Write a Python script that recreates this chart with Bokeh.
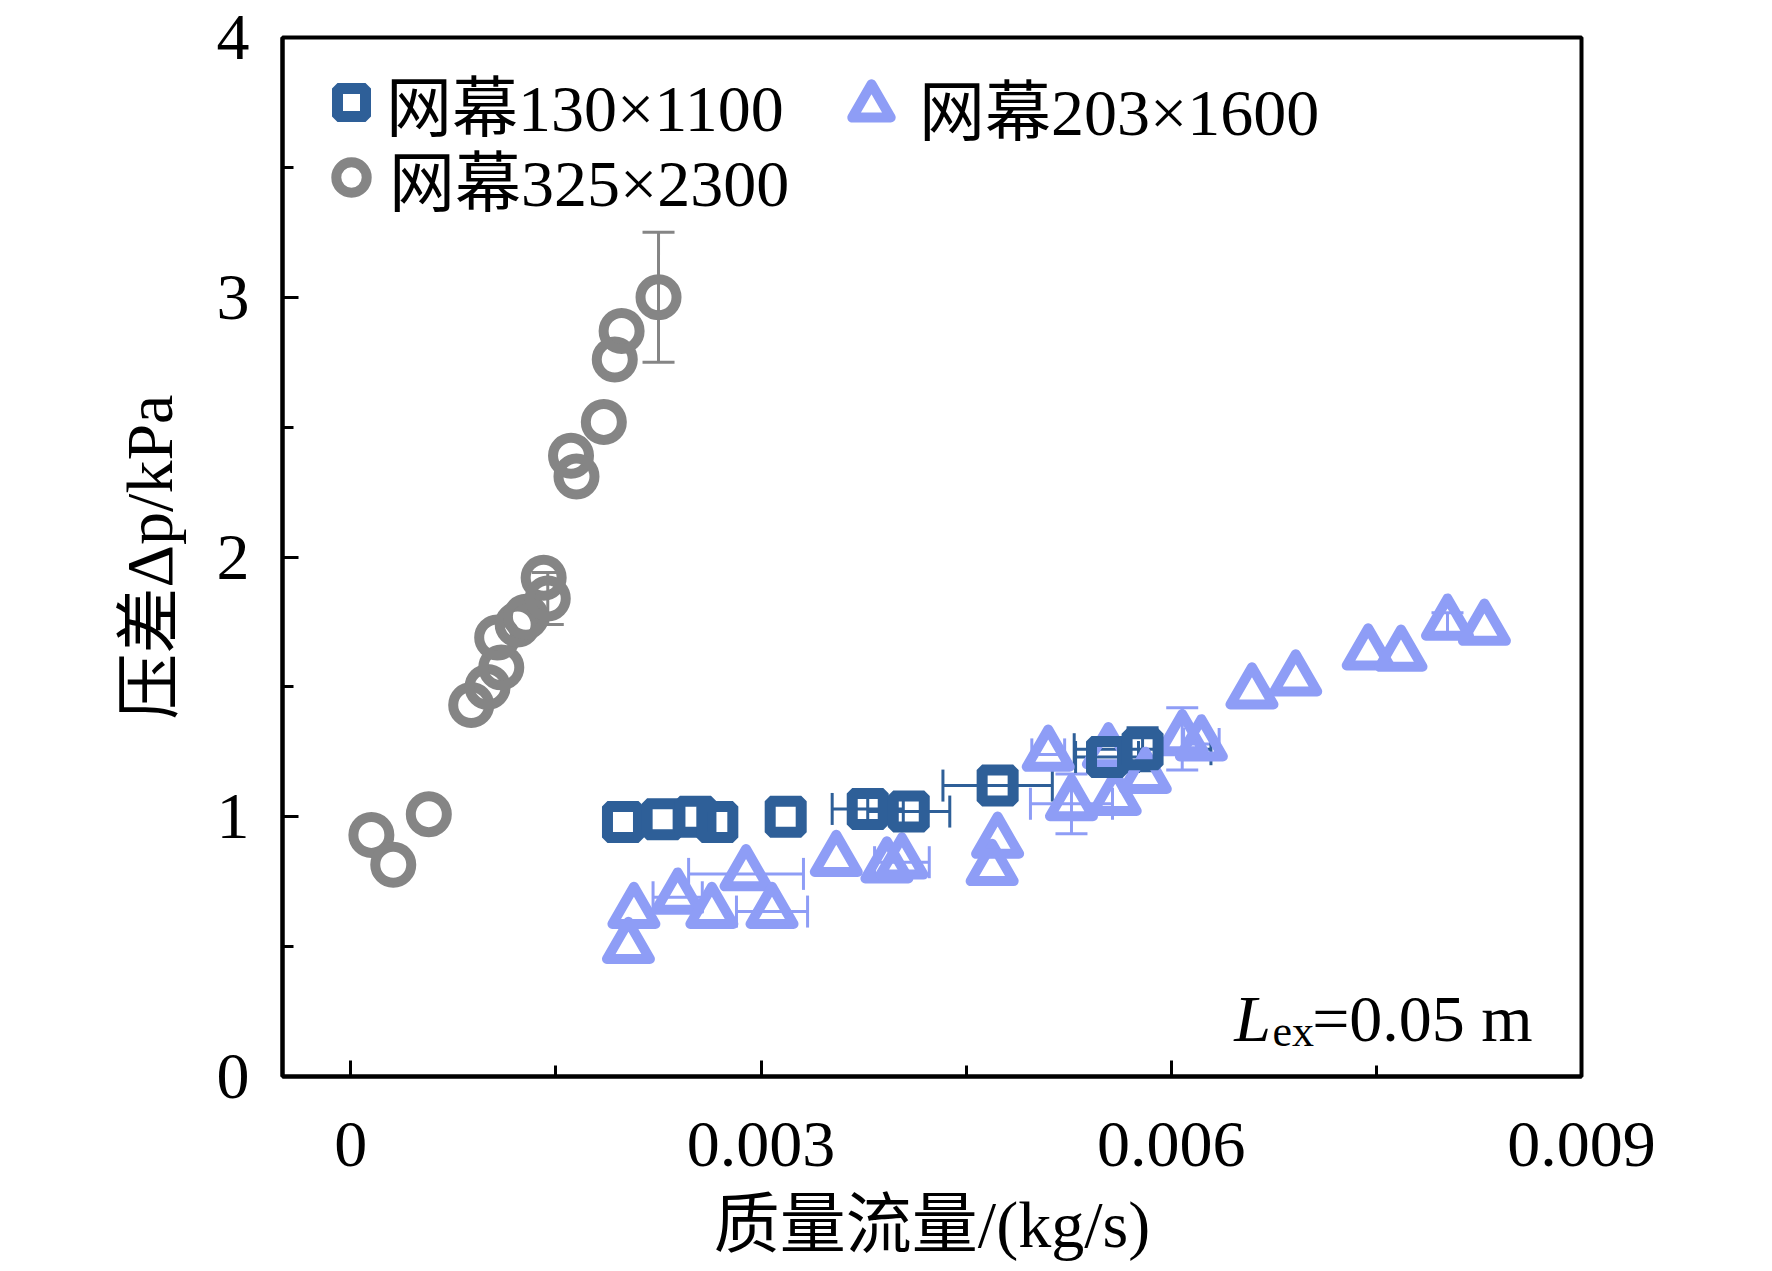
from bokeh.plotting import figure
from bokeh.models import (ColumnDataSource, Whisker, TeeHead, FixedTicker,
                          CustomJSTickFormatter, Legend, LegendItem, Label)
from bokeh.embed import file_html
from bokeh.resources import INLINE

# ---------------- data ----------------
# 网幕130×1100 (squares)
sq_x = [0.00199, 0.00228, 0.00252, 0.00268, 0.00318, 0.00378, 0.00408, 0.00473, 0.00553, 0.00579]
sq_y = [0.98, 0.99, 1.00, 0.98, 1.00, 1.03, 1.02, 1.12, 1.23, 1.26]
sq_xerr = [0, 0, 0, 0, 0, 0.00026, 0.0003, 0.0004, 0.00023, 0.0005]
sq_yerr = [0, 0, 0, 0, 0, 0, 0, 0, 0, 0.083]

# 网幕203×1600 (triangles)
tri_x = [0.00203, 0.00207, 0.00239, 0.00264, 0.00289, 0.00308, 0.00355, 0.00392,
         0.00403, 0.00469, 0.00473, 0.00510, 0.00527, 0.00554, 0.00559, 0.00581,
         0.00608, 0.00622, 0.00659, 0.00691, 0.00744, 0.00768, 0.00802, 0.00829]
tri_y = [0.50, 0.635, 0.69, 0.635, 0.78, 0.635, 0.835, 0.81,
         0.825, 0.80, 0.905, 1.24, 1.05, 1.25, 1.07, 1.155,
         1.30, 1.28, 1.48, 1.53, 1.63, 1.625, 1.745, 1.725]
tri_xerr = [0, 0, 0.00018, 0, 0.00042, 0.00026, 0, 0,
            0.0002, 0, 0, 0.00012, 0.0003, 0, 0, 0,
            0, 0.00013, 0, 0, 0, 0, 0, 0]
tri_yerr = [0, 0, 0, 0, 0, 0, 0, 0,
            0, 0, 0, 0, 0.115, 0, 0, 0,
            0.12, 0, 0, 0, 0, 0, 0.04, 0]

# 网幕325×2300 (circles)
cir_x = [0.00015, 0.00031, 0.00057, 0.00088, 0.00100, 0.00110, 0.00107, 0.00122, 0.00128,
         0.00141, 0.00144, 0.00161, 0.00165, 0.00185, 0.00193, 0.00198, 0.00225]
cir_y = [0.93, 0.815, 1.01, 1.43, 1.50, 1.575, 1.69, 1.74, 1.77,
         1.92, 1.84, 2.39, 2.31, 2.52, 2.76, 2.87, 3.00]
cir_yerr = [0, 0, 0, 0, 0, 0, 0, 0, 0,
            0, 0.10, 0, 0, 0, 0, 0, 0.25]

x_ticks = [0, 0.003, 0.006, 0.009]
x_minor = [0.0015, 0.0045, 0.0075]
y_ticks = [0, 1, 2, 3, 4]
y_minor = [0.5, 1.5, 2.5, 3.5]

labels = ["网幕130×1100", "网幕203×1600", "网幕325×2300"]
x_title = "质量流量/(kg/s)"
y_title = "压差Δp/kPa"

# ---------------- style ----------------
FONT = "'Liberation Serif', 'Noto Sans CJK SC', serif"
C_SQ = "#2E5F98"
C_TRI = "#8E9DF6"
C_CIR = "#858585"
FS = "66px"

p = figure(frame_width=1299, frame_height=1039,
           x_range=(-0.0005, 0.009), y_range=(0, 4),
           output_backend="svg", toolbar_location=None,
           min_border_left=282, min_border_top=37,
           min_border_right=160, min_border_bottom=150)
p.background_fill_color = "white"
p.border_fill_color = "white"
p.grid.visible = False
p.outline_line_color = "black"
p.outline_line_width = 4

p.xaxis.ticker = FixedTicker(ticks=x_ticks, minor_ticks=x_minor)
p.yaxis.ticker = FixedTicker(ticks=y_ticks, minor_ticks=y_minor)
p.xaxis.formatter = CustomJSTickFormatter(code="return tick == 0 ? '0' : tick.toFixed(3);")

for ax in (p.xaxis[0], p.yaxis[0]):
    ax.axis_line_width = 4
    ax.axis_line_color = "black"
    ax.major_tick_in = 16
    ax.major_tick_out = 0
    ax.minor_tick_in = 11
    ax.minor_tick_out = 0
    ax.major_tick_line_width = 3
    ax.minor_tick_line_width = 3
    ax.major_tick_line_color = "black"
    ax.minor_tick_line_color = "black"
    ax.major_label_text_font = FONT
    ax.major_label_text_font_size = FS
    ax.major_label_text_color = "black"
    ax.axis_label_text_font = FONT
    ax.axis_label_text_font_size = FS
    ax.axis_label_text_font_style = "normal"
    ax.axis_label_text_color = "black"

p.xaxis.axis_label = x_title
p.yaxis.axis_label = y_title
p.xaxis.major_label_standoff = 46
p.yaxis.major_label_standoff = 33
p.xaxis.axis_label_standoff = 19
p.yaxis.axis_label_standoff = 28


def add_errors(xs, ys, xe, ye, color):
    iy = [i for i in range(len(xs)) if ye[i] > 0]
    if iy:
        src = ColumnDataSource(dict(base=[xs[i] for i in iy],
                                    lower=[ys[i] - ye[i] for i in iy],
                                    upper=[ys[i] + ye[i] for i in iy]))
        p.add_layout(Whisker(source=src, base="base", lower="lower", upper="upper",
                             dimension="height", line_color=color, line_width=3,
                             upper_head=TeeHead(size=32, line_color=color, line_width=3),
                             lower_head=TeeHead(size=32, line_color=color, line_width=3)))
    ix = [i for i in range(len(xs)) if xe[i] > 0]
    if ix:
        src = ColumnDataSource(dict(base=[ys[i] for i in ix],
                                    lower=[xs[i] - xe[i] for i in ix],
                                    upper=[xs[i] + xe[i] for i in ix]))
        p.add_layout(Whisker(source=src, base="base", lower="lower", upper="upper",
                             dimension="width", line_color=color, line_width=3,
                             upper_head=TeeHead(size=32, line_color=color, line_width=3),
                             lower_head=TeeHead(size=32, line_color=color, line_width=3)))


add_errors(tri_x, tri_y, tri_xerr, tri_yerr, C_TRI)
add_errors(sq_x, sq_y, sq_xerr, sq_yerr, C_SQ)
add_errors(cir_x, cir_y, [0] * len(cir_x), cir_yerr, C_CIR)

r_tri = p.scatter(tri_x, tri_y, marker="triangle", size=43, line_color=C_TRI,
                  line_width=10, line_join="round", fill_color=None)
r_sq = p.scatter(sq_x, sq_y, marker="square", size=31, line_color=C_SQ,
                 line_width=11, fill_color=None)
r_cir = p.scatter(cir_x, cir_y, marker="circle", size=36, line_color=C_CIR,
                  line_width=10, fill_color=None)


def make_legend(label, renderer, loc, gw, gh=100):
    return Legend(items=[LegendItem(label=label, renderers=[renderer])],
                  location=loc, glyph_width=gw, glyph_height=gh, label_height=gh,
                  label_standoff=0, spacing=0, padding=0, margin=0,
                  border_line_alpha=0, background_fill_alpha=0,
                  label_text_font=FONT, label_text_font_size=FS, label_text_color="black")


p.add_layout(make_legend(labels[0], r_sq, (34, 924), 70))
p.add_layout(make_legend(labels[2], r_cir, (31, 849), 76))
p.add_layout(make_legend(labels[1], r_tri, (541, 920), 96))

p.add_layout(Label(x=0.00646, y=0.223, text="L", text_font=FONT, text_font_style="italic",
                   text_font_size=FS, text_baseline="alphabetic", text_color="black"))
p.add_layout(Label(x=0.00674, y=0.173, text="ex", text_font=FONT,
                   text_font_size="44px", text_baseline="alphabetic", text_color="black"))
p.add_layout(Label(x=0.00703, y=0.223, text="=0.05 m", text_font=FONT,
                   text_font_size=FS, text_baseline="alphabetic", text_color="black"))

open("out.html", "w").write(file_html(p, INLINE))
